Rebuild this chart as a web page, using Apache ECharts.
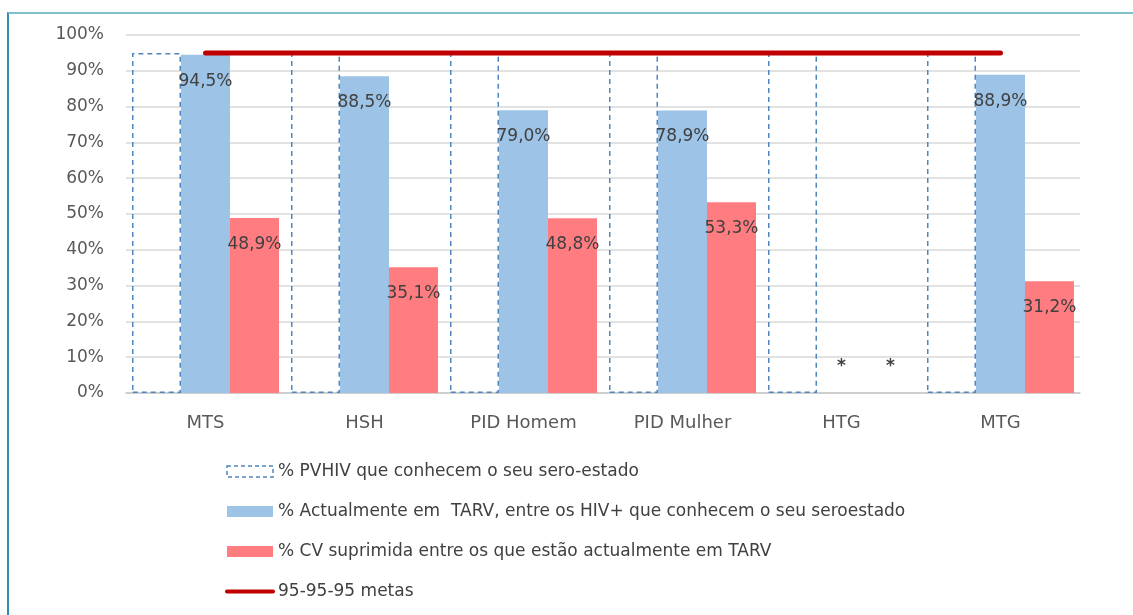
<!DOCTYPE html>
<html>
<head>
<meta charset="utf-8">
<script src="https://cdn.jsdelivr.net/npm/echarts@6/dist/echarts.min.js"></script>
<style>
html, body { margin: 0; padding: 0; background: #fff; }
#frame { position: absolute; left: 7px; top: 12px; width: 1126px; height: 603px;
  border-top: 2px solid #7fc0cc; border-left: 2px solid #2a8fb0; box-sizing: border-box; }
#chart { position: absolute; left: 0; top: 0; width: 1133px; height: 615px; }
</style>
</head>
<body>
<div id="frame"></div>
<div id="chart"></div>
<script>
var categories = ["MTS", "HSH", "PID Homem", "PID Mulher", "HTG", "MTG"];
var conhecem = [95, 95, 95, 95, 95, 95];
var emTarv = [94.5, 88.5, 79.0, 78.9, null, 88.9];
var cvSuprimida = [48.9, 35.1, 48.8, 53.3, null, 31.2];
var metas = [95, 95, 95, 95, 95, 95];
var names = [
    "% PVHIV que conhecem o seu sero-estado",
    "% Actualmente em  TARV, entre os HIV+ que conhecem o seu seroestado",
    "% CV suprimida entre os que estão actualmente em TARV",
    "95-95-95 metas"
];

function fmt(p) {
    return p.value.toFixed(1).replace(".", ",") + "%";
}
// HTG has no data: draw an asterisk just above the axis
function withStar(arr) {
    return arr.map(function(v) {
        if (v === null) {
            return { value: 0, label: { position: "top", distance: 18, formatter: "*", fontSize: 17, fontWeight: "bold" } };
        }
        return v;
    });
}

var font = "DejaVu Sans";
var e = echarts.init(document.getElementById("chart"));
e.setOption({
    animation: false,
    textStyle: { fontFamily: font },
    grid: { left: 126, right: 53, top: 35, bottom: 222 },
    legend: {
        orient: "vertical",
        left: 220,
        top: 458,
        itemWidth: 46,
        itemHeight: 11,
        itemGap: 23,
        textStyle: { fontFamily: font, fontSize: 17, color: "#404040" },
        data: [
            { name: names[0], icon: "rect",
              itemStyle: { color: "rgba(255,255,255,0)", borderColor: "#4f86c0", borderWidth: 1.5, borderType: [4, 3] } },
            { name: names[1], icon: "rect" },
            { name: names[2], icon: "rect" },
            { name: names[3], itemStyle: { opacity: 0 }, lineStyle: { width: 4, color: "#c00000" } }
        ]
    },
    xAxis: {
        type: "category",
        data: categories,
        axisLine: { lineStyle: { color: "#c8c8c8", width: 1.5 } },
        axisTick: { show: false },
        axisLabel: { fontSize: 18, color: "#595959", margin: 21 }
    },
    yAxis: {
        type: "value",
        min: 0,
        max: 100,
        interval: 10,
        axisLine: { show: false },
        axisTick: { show: false },
        axisLabel: { formatter: "{value}%", fontSize: 17, color: "#595959", margin: 22 },
        splitLine: { lineStyle: { color: "#d9d9d9", width: 1.5 } }
    },
    series: [{
        name: names[0],
        type: "bar",
        barWidth: 49,
        barGap: "0%",
        data: conhecem,
        itemStyle: { color: "rgba(255,255,255,0)", borderColor: "#4f86c0", borderWidth: 1.5, borderType: [5, 4] }
    }, {
        name: names[1],
        type: "bar",
        barWidth: 49,
        barGap: "0%",
        data: withStar(emTarv),
        itemStyle: { color: "#9dc3e6" },
        label: { show: true, position: "insideTop", distance: 18, formatter: fmt, fontSize: 17, color: "#404040" }
    }, {
        name: names[2],
        type: "bar",
        barWidth: 49,
        barGap: "0%",
        data: withStar(cvSuprimida),
        itemStyle: { color: "#ff7c80" },
        label: { show: true, position: "insideTop", distance: 18, formatter: fmt, fontSize: 17, color: "#404040" }
    }, {
        name: names[3],
        type: "line",
        data: metas,
        symbol: "none",
        z: 5,
        lineStyle: { color: "#c00000", width: 5, cap: "round" },
        itemStyle: { color: "#c00000" }
    }]
});
</script>
</body>
</html>
